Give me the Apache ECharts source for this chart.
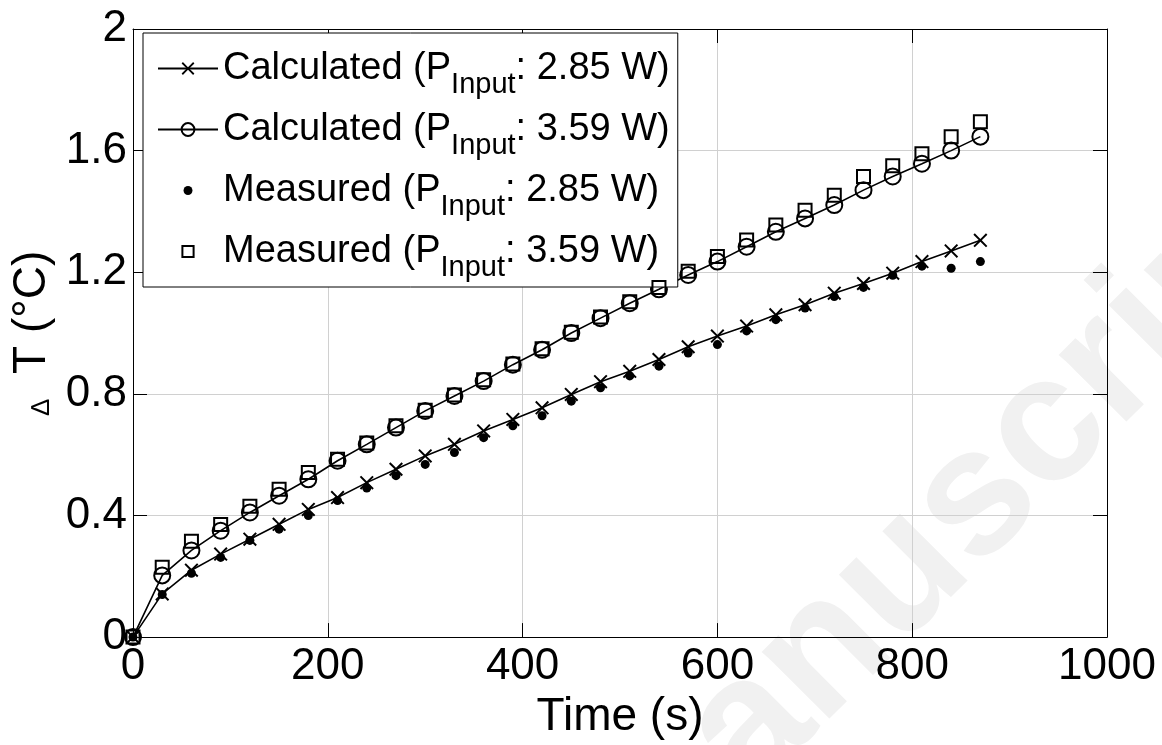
<!DOCTYPE html>
<html>
<head>
<meta charset="utf-8">
<script src="https://cdn.jsdelivr.net/npm/echarts@6/dist/echarts.min.js"></script>
<style>
html,body{margin:0;padding:0;background:#fff;}
#chart{width:1162px;height:745px;}
</style>
</head>
<body>
<div id="chart"></div>
<script>
// ---- data ----
const times = [0, 30, 60, 90, 120, 150, 180, 210, 240, 270, 300, 330, 360, 390, 420, 450, 480, 510, 540, 570, 600, 630, 660, 690, 720, 750, 780, 810, 840, 870];
const calc285 = [0, 0.142, 0.22, 0.273, 0.322, 0.371, 0.42, 0.459, 0.508, 0.552, 0.596, 0.634, 0.678, 0.716, 0.754, 0.798, 0.84, 0.874, 0.913, 0.955, 0.99, 1.023, 1.06, 1.093, 1.131, 1.163, 1.197, 1.235, 1.27, 1.305];
const meas285 = [0, 0.14, 0.21, 0.262, 0.318, 0.355, 0.40, 0.449, 0.49, 0.531, 0.568, 0.607, 0.656, 0.695, 0.728, 0.776, 0.82, 0.859, 0.891, 0.934, 0.962, 1.007, 1.044, 1.082, 1.12, 1.15, 1.19, 1.22, 1.213, 1.235];
const calc359 = [0, 0.203, 0.285, 0.35, 0.41, 0.465, 0.519, 0.58, 0.634, 0.689, 0.744, 0.793, 0.842, 0.896, 0.945, 1.0, 1.049, 1.098, 1.144, 1.191, 1.235, 1.284, 1.333, 1.377, 1.421, 1.47, 1.515, 1.557, 1.60, 1.646];
const meas359 = [0, 0.23, 0.315, 0.37, 0.43, 0.486, 0.541, 0.585, 0.638, 0.695, 0.746, 0.796, 0.846, 0.898, 0.948, 1.003, 1.053, 1.103, 1.15, 1.203, 1.252, 1.306, 1.355, 1.404, 1.453, 1.515, 1.55, 1.59, 1.646, 1.695];
const seriesNames = ['Calculated (P_Input: 2.85 W)', 'Calculated (P_Input: 3.59 W)', 'Measured (P_Input: 2.85 W)', 'Measured (P_Input: 3.59 W)'];
const xTicks = [0, 200, 400, 600, 800, 1000];
const yTicks = [0, 0.4, 0.8, 1.2, 1.6, 2];
const xName = 'Time (s)';
const yName = 'T (°C)';
const watermark = 'manuscript';

// ---- chart ----
const FONT = 'Liberation Sans, Arial, Helvetica, sans-serif';
const pairs = arr => times.map((t, i) => [t, arr[i]]);
const CROSS = 'path://M0,1L1,0L5,4L9,0L10,1L6,5L10,9L9,10L5,6L1,10L0,9L4,5Z';
const DOT_ICON = 'path://M0,0M20,20M10,4.4A5.6,5.6,0,1,1,10,15.6A5.6,5.6,0,1,1,10,4.4Z';
const SQ_ICON = 'path://M0,0M20,20M3,3L17,3L17,17L3,17Z';

const chart = echarts.init(document.getElementById('chart'), null, {renderer: 'canvas'});

const axisCommon = {
  type: 'value',
  axisLine: {show: true, onZero: false, lineStyle: {color: '#000', width: 1}},
  axisTick: {show: true, inside: true, length: 14, lineStyle: {color: '#000', width: 1}},
};

const option = {
  animation: false,
  backgroundColor: '#fff',
  grid: {left: 133, right: 55, top: 29, bottom: 105},
  graphic: [{
    type: 'text', z: -10, silent: true,
    x: 665, y: 940, rotation: Math.PI / 4,
    style: {text: watermark, font: 'bold 180px ' + FONT, fill: '#f1f1f1', textAlign: 'left', textVerticalAlign: 'bottom'}
  }],
  xAxis: [
    Object.assign({}, axisCommon, {
      position: 'bottom', min: xTicks[0], max: xTicks[xTicks.length - 1], interval: xTicks[1] - xTicks[0],
      name: xName, nameLocation: 'middle', nameGap: 40,
      nameTextStyle: {fontFamily: FONT, fontSize: 46, color: '#000', verticalAlign: 'top'},
      axisLabel: {fontFamily: FONT, fontSize: 44, color: '#000', margin: 8, formatter: v => String(v)},
      splitLine: {show: true, lineStyle: {color: '#d0d0d0', width: 1}}
    }),
    Object.assign({}, axisCommon, {
      position: 'top', min: xTicks[0], max: xTicks[xTicks.length - 1], interval: xTicks[1] - xTicks[0],
      axisLabel: {show: false}, splitLine: {show: false}
    })
  ],
  yAxis: [
    Object.assign({}, axisCommon, {
      position: 'left', min: yTicks[0], max: yTicks[yTicks.length - 1], interval: yTicks[1] - yTicks[0],
      name: '{d|∆}{t|  ' + yName + '}', nameLocation: 'middle', nameGap: 76, nameRotate: 90,
      nameTextStyle: {
        fontFamily: FONT, fontSize: 46, color: '#000',
        rich: {
          d: {fontFamily: FONT, fontSize: 26, color: '#000', verticalAlign: 'bottom'},
          t: {fontFamily: FONT, fontSize: 46, color: '#000'}
        }
      },
      axisLabel: {fontFamily: FONT, fontSize: 44, color: '#000', margin: 6, formatter: v => String(v)},
      splitLine: {show: true, lineStyle: {color: '#d0d0d0', width: 1}}
    }),
    Object.assign({}, axisCommon, {
      position: 'right', min: yTicks[0], max: yTicks[yTicks.length - 1], interval: yTicks[1] - yTicks[0],
      axisLabel: {show: false}, splitLine: {show: false}
    })
  ],
  legend: {
    orient: 'vertical', left: 143, top: 33,
    itemWidth: 60, itemHeight: 16, itemGap: 0,
    padding: [5, 8, 5, 14],
    backgroundColor: '#fff', borderColor: '#000', borderWidth: 1,
    selectedMode: false,
    data: [
      {name: seriesNames[0]},
      {name: seriesNames[1]},
      {name: seriesNames[2], icon: DOT_ICON},
      {name: seriesNames[3], icon: SQ_ICON}
    ],
    formatter: function (name) {
      const parts = name.split('_Input');
      return '{a|' + parts[0] + '}{s|Input}{a|' + parts[1] + '}';
    },
    textStyle: {
      fontFamily: FONT, fontSize: 38, color: '#000',
      rich: {
        a: {fontFamily: FONT, fontSize: 38, lineHeight: 56, color: '#000'},
        s: {fontFamily: FONT, fontSize: 29, lineHeight: 20, padding: [32, 0, 0, 0], color: '#000'}
      }
    }
  },
  series: [
    {
      name: seriesNames[0], type: 'line', xAxisIndex: 0, yAxisIndex: 0, z: 3,
      data: pairs(calc285), symbol: CROSS, symbolSize: 14, showAllSymbol: true,
      lineStyle: {color: '#000', width: 1.6}, itemStyle: {color: '#000', borderWidth: 0}
    },
    {
      name: seriesNames[1], type: 'line', xAxisIndex: 0, yAxisIndex: 0, z: 3,
      data: pairs(calc359), symbol: 'circle', symbolSize: 16, showAllSymbol: true,
      lineStyle: {color: '#000', width: 1.6},
      itemStyle: {color: 'rgba(255,255,255,0)', borderColor: '#000', borderWidth: 2}
    },
    {
      name: seriesNames[2], type: 'scatter', xAxisIndex: 0, yAxisIndex: 0, z: 4,
      data: pairs(meas285), symbol: 'circle', symbolSize: 9,
      itemStyle: {color: '#000', opacity: 1}
    },
    {
      name: seriesNames[3], type: 'scatter', xAxisIndex: 0, yAxisIndex: 0, z: 4,
      data: pairs(meas359), symbol: 'rect', symbolSize: 13,
      itemStyle: {color: 'rgba(255,255,255,0)', borderColor: '#000', borderWidth: 2, opacity: 1}
    }
  ]
};

chart.setOption(option);
</script>
</body>
</html>
